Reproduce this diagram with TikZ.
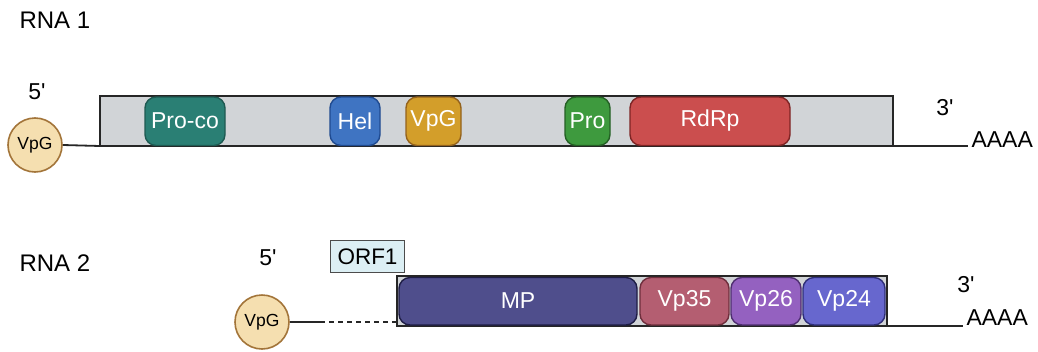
\documentclass[tikz,border=0pt]{standalone}
\usepackage{fontspec}
\setmainfont{Liberation Sans}
\newfontfamily\endfont[Ligatures=ResetAll]{Liberation Sans}
\definecolor{genome}{HTML}{D1D4D7}
\definecolor{vpgfill}{HTML}{F5DFB0}
\definecolor{vpgline}{HTML}{A3753A}
\definecolor{procoF}{HTML}{2A7F74}\definecolor{procoD}{HTML}{1E5A52}
\definecolor{helF}{HTML}{3F74C2}\definecolor{helD}{HTML}{1F4A90}
\definecolor{vpgF}{HTML}{D39E2A}\definecolor{vpgD}{HTML}{94621C}
\definecolor{proF}{HTML}{3E9A3E}\definecolor{proD}{HTML}{245F24}
\definecolor{rdrpF}{HTML}{CB4E4E}\definecolor{rdrpD}{HTML}{7E2424}
\definecolor{mpF}{HTML}{4F4E8C}\definecolor{mpD}{HTML}{1E1D45}
\definecolor{vp35F}{HTML}{B45E71}\definecolor{vp35D}{HTML}{6E2E3C}
\definecolor{vp26F}{HTML}{9461C0}\definecolor{vp26D}{HTML}{4E2E70}
\definecolor{vp24F}{HTML}{6767CE}\definecolor{vp24D}{HTML}{2E2E78}
\definecolor{orfF}{HTML}{DCEFF4}
\tikzset{
  px/.style={x=1pt,y=-1pt},
  genomebox/.style={draw=black!85,line width=1.8pt,fill=genome},
  prot/.style={draw=#1D,fill=#1F,line width=1.4pt,rounded corners=11pt},
  protlabel/.style={text=white,font=\fontsize{23}{25}\selectfont,anchor=center},
  vpgcirc/.style={circle,draw=vpgline,fill=vpgfill,line width=1.6pt,minimum size=54pt,inner sep=0pt,font=\fontsize{17.5}{19}\selectfont},
  endlabel/.style={font=\endfont\fontsize{23}{25}\selectfont,anchor=center},
  rnalabel/.style={font=\fontsize{24}{26}\selectfont,anchor=west},
  strand/.style={draw=black!85,line width=1.8pt}
}
\begin{document}
\begin{tikzpicture}[px]
\useasboundingbox (0,0) rectangle (1038,351);
% ---------- RNA 1 ----------
\node[rnalabel] (r1) at (16,20) {RNA 1};
\node[endlabel] (p51) at (37,92) {5'};
\node[endlabel] (p31) at (945,108) {3'};
\draw[genomebox] (100,96) rectangle (893,146);
\coordinate (g1l) at (100,146);
\coordinate (g1r) at (893,146);
\node[vpgcirc] (v1) at (35,145) {VpG};
\node[endlabel,anchor=west] (a1) at (968,140) {AAAA};
\draw[strand] (v1.east) -- (g1l);
\draw[strand] (g1r) -- (a1.west |- g1r);
\foreach \n/\c/\xa/\xb/\t in {proco/proco/145/225/Pro-co, hel/hel/330/380/Hel, vpg/vpg/406/461/VpG, pro/pro/565/610/Pro, rdrp/rdrp/630/790/RdRp}{
  \draw[prot=\c] (\xa,97) rectangle (\xb,145.5);
  \node[protlabel] (\n) at ({(\xa+\xb)/2},121) {\t};
}
% ---------- RNA 2 ----------
\node[rnalabel] (r2) at (16,263) {RNA 2};
\node[endlabel] (p52) at (268,258) {5'};
\node[endlabel] (p32) at (966,285) {3'};
\draw[genomebox] (397,276) rectangle (887,326);
\coordinate (g2l) at (397,322);
\coordinate (g2r) at (887,326);
\node[vpgcirc] (v2) at (262,322) {VpG};
\coordinate (dashstart) at (320,322);
\draw[strand] (v2.east) -- (dashstart);
\draw[strand,dash pattern=on 5pt off 4pt] (dashstart) -- (g2l);
\node[endlabel,anchor=west] (a2) at (963,318) {AAAA};
\draw[strand] (g2r) -- (a2.west |- g2r);
\node[draw=black!70,fill=orfF,line width=1.4pt,minimum width=74pt,minimum height=32pt,inner sep=0pt,font=\fontsize{22.5}{24}\selectfont] (orf) at (367.5,256.5) {ORF1};
\foreach \n/\c/\xa/\xb/\t in {mp/mp/399/637/MP, vpa/vp35/640/729/Vp35, vpb/vp26/731/801/Vp26, vpc/vp24/803/885/Vp24}{
  \draw[prot=\c] (\xa,277.5) rectangle (\xb,325);
  \node[protlabel] (\n) at ({(\xa+\xb)/2},301) {\t};
}
\end{tikzpicture}
\end{document}
